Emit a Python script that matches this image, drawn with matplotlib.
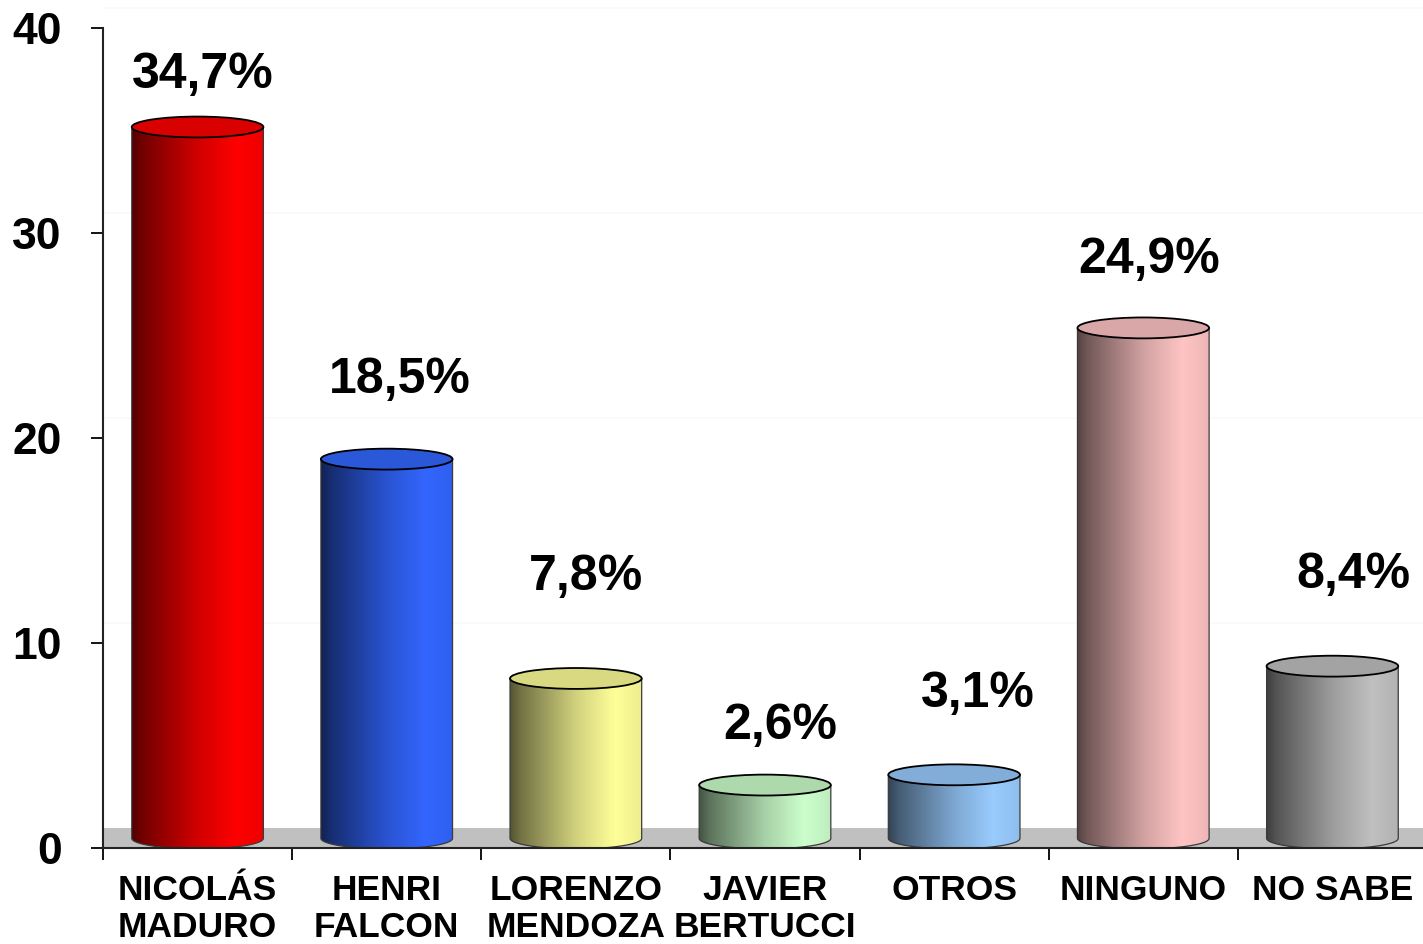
import numpy as np
import matplotlib
matplotlib.use('Agg')
import matplotlib.pyplot as plt
from matplotlib.patches import Polygon, Ellipse
from matplotlib.colors import to_rgb

plt.rcParams['font.family'] = ['Liberation Sans', 'DejaVu Sans']
plt.rcParams['font.weight'] = 'bold'

# chart data
categories = ['NICOLÁS\nMADURO', 'HENRI\nFALCON', 'LORENZO\nMENDOZA', 'JAVIER\nBERTUCCI',
              'OTROS', 'NINGUNO', 'NO SABE']
values = [34.7, 18.5, 7.8, 2.6, 3.1, 24.9, 8.4]
bar_colors = ['#ff0000', '#3366ff', '#ffff99', '#ccffcc', '#99ccff', '#ffc4c4', '#c0c0c0']
yticks = [0, 10, 20, 30, 40]

# hand-placed value labels (offset in pixels from the bar value)
label_offsets = [(5, 49), (13, 76), (10, 98), (15, 56), (24, 77), (6, 65), (21, 88)]

DEPTH = 0.47      # 3d floor offset in data units
HALF_W = 0.348    # cylinder half width (category units)
ELL_H = 0.51      # ellipse half height (value units)

fig = plt.figure(figsize=(14.23, 9.44), dpi=100)
ax = fig.add_axes([103 / 1423, 96 / 944, 1324 / 1423, 820 / 944])

# faint back wall lines and the grey floor
for g in [10, 20, 30, 40]:
    ax.axhline(g + 0.97, color='#f9f9f9', lw=1.2, zorder=0, clip_on=False)
ax.axhspan(0, 0.97, color='#c0c0c0', zorder=1, lw=0)

shade = np.interp(np.linspace(0, 1, 256), [0, 0.08, 0.5, 0.8, 1.0], [0.33, 0.45, 0.82, 1.0, 0.93])

for i, (v, col) in enumerate(zip(values, bar_colors)):
    rgb = np.array(to_rgb(col))
    yb = DEPTH
    yt = v + DEPTH
    x0, x1 = i - HALF_W, i + HALF_W
    img = np.clip(rgb[None, None, :] * shade[None, :, None], 0, 1)
    im = ax.imshow(img, extent=[x0, x1, yb - ELL_H, yt], aspect='auto',
                   interpolation='bilinear', zorder=3)
    ang = np.linspace(0, np.pi, 80)
    arc = np.column_stack([i + HALF_W * np.cos(ang), yb - ELL_H * np.sin(ang)])
    verts = np.vstack([[[x0, yt], [x1, yt]], arc])
    body = Polygon(verts, closed=True, facecolor='none', edgecolor='#3a3a3a', lw=0.9, zorder=4)
    ax.add_patch(body)
    im.set_clip_path(body)
    top = Ellipse((i, yt), 2 * HALF_W, 2 * ELL_H, facecolor=rgb * 0.85,
                  edgecolor='black', lw=1.3, zorder=5)
    ax.add_patch(top)

    dx, dy = label_offsets[i]
    ax.annotate(f'{v:.1f}%'.replace('.', ','), xy=(i, v), xytext=(dx, dy),
                textcoords='offset pixels', ha='center', va='baseline',
                fontsize=36, fontweight='bold', color='black', zorder=6)

ax.set_xlim(-0.5, 6.5)
ax.set_ylim(0, 40)

ax.set_yticks(yticks)
ax.set_yticklabels([str(t) for t in yticks], fontsize=32, fontweight='bold')
ax.tick_params(axis='y', length=8.6, width=1.3, pad=21, color='black')

ax.set_xticks(np.arange(-0.5, 7, 1))
ax.set_xticklabels([])
ax.set_xticks(np.arange(len(categories)), minor=True)
ax.set_xticklabels(categories, minor=True, fontsize=25.5, fontweight='bold', linespacing=1.12)
ax.tick_params(axis='x', which='major', length=8.6, width=1.3, color='black')
ax.tick_params(axis='x', which='minor', length=0, pad=19)

for s in ['top', 'right']:
    ax.spines[s].set_visible(False)
for s in ['left', 'bottom']:
    ax.spines[s].set_linewidth(1.5)
    ax.spines[s].set_color('#222222')
    ax.spines[s].set_zorder(6)

fig.savefig('out.png', dpi=100)
